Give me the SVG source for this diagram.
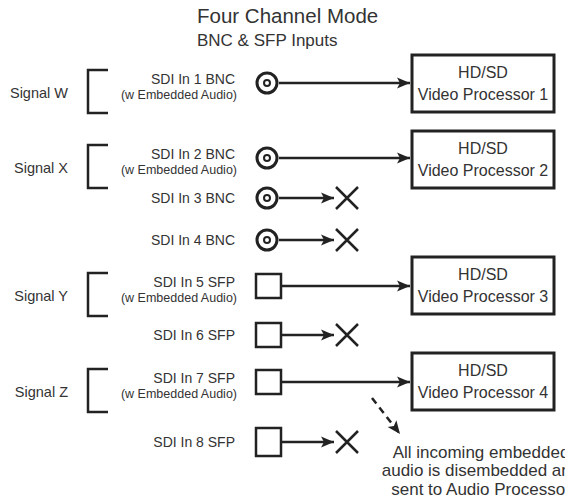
<svg xmlns="http://www.w3.org/2000/svg" width="565" height="504" viewBox="0 0 565 504">
<style>
text{font-family:"Liberation Sans",Arial,sans-serif;fill:#333}
.t1{font-size:20.5px}
.t2{font-size:17px}
.sig{font-size:14.5px;text-anchor:end}
.sdi{font-size:14px;text-anchor:end}
.sub{font-size:12.5px;text-anchor:end}
.box text{font-size:16px;text-anchor:middle}
.note{font-size:17px;text-anchor:middle}
.box rect{fill:#fff;stroke:#222;stroke-width:3}
.ln{fill:none;stroke:#222;stroke-width:2.5}
.br{fill:none;stroke:#222;stroke-width:2.5}
.bnc{fill:none;stroke:#222;stroke-width:3}
.dot{fill:none;stroke:#222;stroke-width:2}
.sfp{fill:#fff;stroke:#222;stroke-width:2.5}
.x{stroke:#222;stroke-width:2.5;fill:none}
</style>
<defs>
<marker id="ah" markerWidth="14" markerHeight="12" refX="13" refY="6" orient="auto" markerUnits="userSpaceOnUse">
<path d="M0,0.5 L13,6 L0,11.5 L3,6 Z" fill="#222"/>
</marker>
</defs>
<text class="t1" x="197" y="23">Four Channel Mode</text>
<text class="t2" x="197" y="46">BNC &amp; SFP Inputs</text>

<g id="boxes" class="box">
<g id="vp1"><rect x="412" y="55" width="142" height="57"/><text x="483" y="78">HD/SD</text><text x="483" y="100">Video Processor 1</text></g>
<g id="vp2"><rect x="412" y="131" width="142" height="57"/><text x="483" y="154">HD/SD</text><text x="483" y="176">Video Processor 2</text></g>
<g id="vp3"><rect x="412" y="257" width="142" height="57"/><text x="483" y="280">HD/SD</text><text x="483" y="302">Video Processor 3</text></g>
<g id="vp4"><rect x="412" y="353" width="142" height="57"/><text x="483" y="376">HD/SD</text><text x="483" y="398">Video Processor 4</text></g>
</g>

<g id="signals">
<g id="sigW"><text class="sig" x="68" y="98">Signal W</text><path class="br" d="M108,70 H88 V113 H108"/></g>
<g id="sigX"><text class="sig" x="68" y="173">Signal X</text><path class="br" d="M108,145 H88 V188 H108"/></g>
<g id="sigY"><text class="sig" x="68" y="301">Signal Y</text><path class="br" d="M108,273 H88 V316 H108"/></g>
<g id="sigZ"><text class="sig" x="68" y="397">Signal Z</text><path class="br" d="M108,369 H88 V412 H108"/></g>
</g>

<g id="inputs">
<g id="in1"><text class="sdi" x="235" y="84">SDI In 1 BNC</text><text class="sub" x="237" y="99">(w Embedded Audio)</text><circle class="bnc" cx="267" cy="83" r="10"/><circle class="dot" cx="267" cy="83" r="3"/></g>
<g id="in2"><text class="sdi" x="235" y="159">SDI In 2 BNC</text><text class="sub" x="237" y="174">(w Embedded Audio)</text><circle class="bnc" cx="267" cy="158" r="10"/><circle class="dot" cx="267" cy="158" r="3"/></g>
<g id="in3"><text class="sdi" x="235" y="203">SDI In 3 BNC</text><circle class="bnc" cx="267" cy="198" r="10"/><circle class="dot" cx="267" cy="198" r="3"/></g>
<g id="in4"><text class="sdi" x="235" y="245">SDI In 4 BNC</text><circle class="bnc" cx="267" cy="240" r="10"/><circle class="dot" cx="267" cy="240" r="3"/></g>
<g id="in5"><text class="sdi" x="235" y="287">SDI In 5 SFP</text><text class="sub" x="237" y="302">(w Embedded Audio)</text><rect class="sfp" x="256" y="274" width="25" height="24"/></g>
<g id="in6"><text class="sdi" x="235" y="340">SDI In 6 SFP</text><rect class="sfp" x="256" y="323" width="25" height="24"/></g>
<g id="in7"><text class="sdi" x="235" y="383">SDI In 7 SFP</text><text class="sub" x="237" y="398">(w Embedded Audio)</text><rect class="sfp" x="256" y="370" width="25" height="24"/></g>
<g id="in8"><text class="sdi" x="235" y="447">SDI In 8 SFP</text><rect class="sfp" x="256" y="428" width="25" height="28"/></g>
</g>

<g id="terminators">
<path class="x" d="M336,187 L358,209 M358,187 L336,209"/>
<path class="x" d="M336,229 L358,251 M358,229 L336,251"/>
<path class="x" d="M336,324 L358,346 M358,324 L336,346"/>
<path class="x" d="M336,431 L358,453 M358,431 L336,453"/>
</g>

<g id="connectors">
<line class="ln" x1="279" y1="83" x2="410" y2="83" marker-end="url(#ah)"/>
<line class="ln" x1="279" y1="158" x2="410" y2="158" marker-end="url(#ah)"/>
<line class="ln" x1="279" y1="198" x2="334" y2="198" marker-end="url(#ah)"/>
<line class="ln" x1="279" y1="240" x2="334" y2="240" marker-end="url(#ah)"/>
<line class="ln" x1="281" y1="286" x2="410" y2="286" marker-end="url(#ah)"/>
<line class="ln" x1="281" y1="335" x2="334" y2="335" marker-end="url(#ah)"/>
<line class="ln" x1="281" y1="382" x2="410" y2="382" marker-end="url(#ah)"/>
<line class="ln" x1="281" y1="442" x2="334" y2="442" marker-end="url(#ah)"/>
<line class="ln" x1="372" y1="398" x2="400" y2="434" stroke-dasharray="7,5" marker-end="url(#ah)"/>
</g>

<g id="note">
<text class="note" x="481" y="458">All incoming embedded</text>
<text class="note" x="481" y="476">audio is disembedded and</text>
<text class="note" x="481" y="495">sent to Audio Processor</text>
</g>
</svg>
